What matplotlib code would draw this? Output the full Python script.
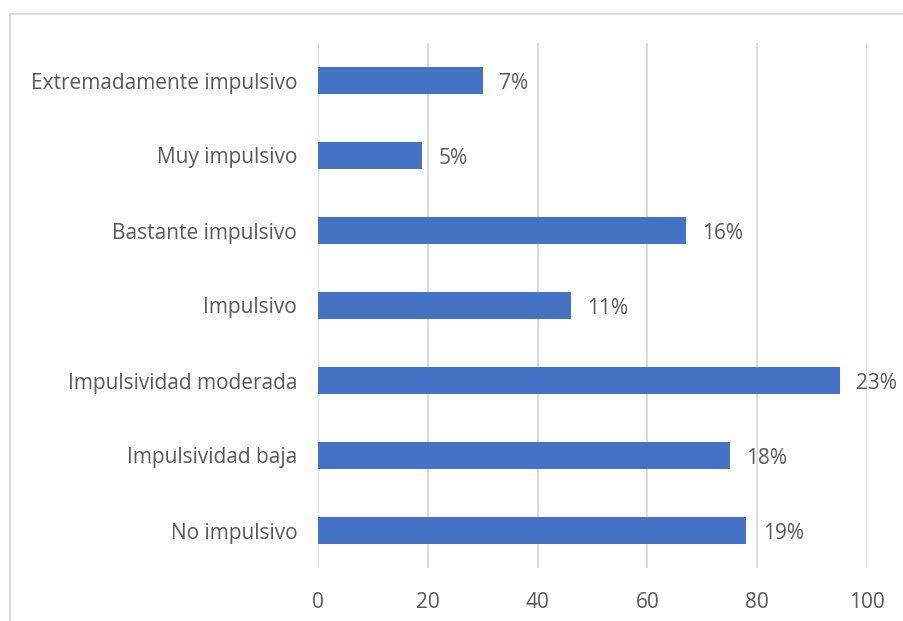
import matplotlib
matplotlib.use("Agg")
import matplotlib.pyplot as plt
from matplotlib.patches import Rectangle

categories = [
    "No impulsivo",
    "Impulsividad baja",
    "Impulsividad moderada",
    "Impulsivo",
    "Bastante impulsivo",
    "Muy impulsivo",
    "Extremadamente impulsivo",
]
counts = [78, 75, 95, 46, 67, 19, 30]
x_ticks = [0, 20, 40, 60, 80, 100]

plt.rcParams["font.family"] = ["Open Sans", "DejaVu Sans"]
text_color = "#595959"
grid_color = "#D9D9D9"
bar_color = "#4472C4"

W, H = 904, 621
fig = plt.figure(figsize=(W / 100, H / 100), dpi=100)

# outer chart frame (open on the right and bottom)
fig.patches.append(Rectangle((10 / W, -0.1), 1.2, 1 - 14 / H + 0.1,
                             transform=fig.transFigure, fill=False,
                             edgecolor=grid_color, linewidth=1.3))

ax = fig.add_axes([318 / W, 1 - 568 / H, (867 - 318) / W, (568 - 43) / H])

ypos = list(range(len(categories)))
ax.barh(ypos, counts, height=0.35, color=bar_color, zorder=3)

total = sum(counts)
for y, v in zip(ypos, counts):
    ax.annotate(f"{round(100 * v / total)}%", xy=(v, y), xytext=(12, -2),
                textcoords="offset points", va="center", ha="left",
                fontsize=15, color=text_color)

ax.set_xlim(0, 100)
ax.set_ylim(-0.5, len(categories) - 0.5)
ax.set_xticks(x_ticks)
ax.set_yticks(ypos)
ax.set_yticklabels(categories)
ax.tick_params(axis="both", length=0, labelsize=15, labelcolor=text_color)
ax.tick_params(axis="x", pad=17.5)
ax.tick_params(axis="y", pad=15)
ax.xaxis.grid(True, color=grid_color, linewidth=1.3, zorder=0)
for s in ax.spines.values():
    s.set_visible(False)

fig.savefig("out.png", dpi=100)
